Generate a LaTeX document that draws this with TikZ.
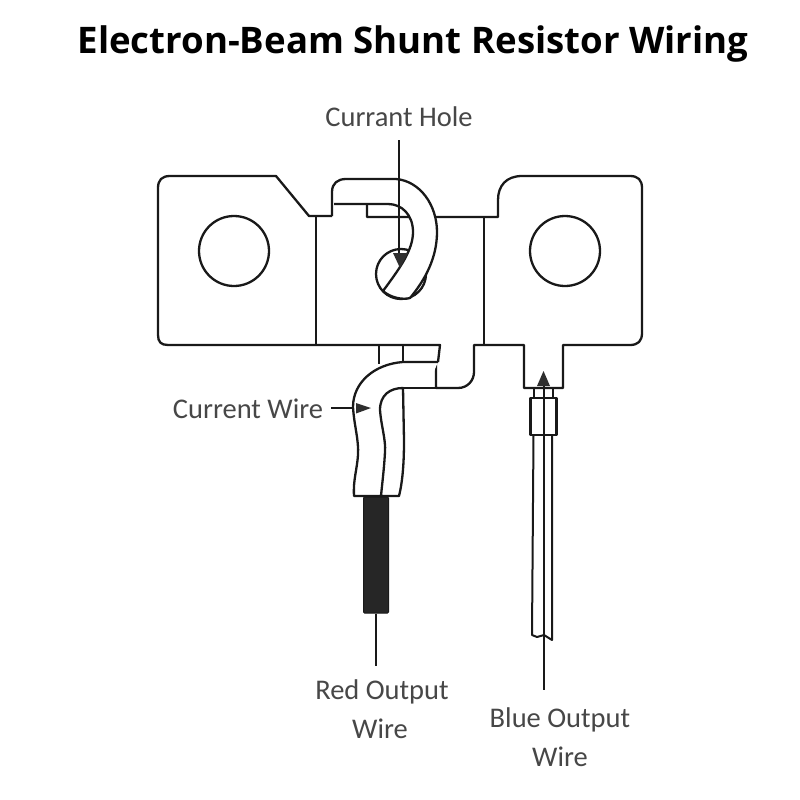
\documentclass[tikz,border=0pt]{standalone}
\usepackage{fontspec}
\setmainfont{Carlito}
\newfontfamily\titlefont{Open Sans}
\tikzset{
  part/.style={draw=black!90, line width=2.3pt, line join=round},
  leader/.style={draw=black!90, line width=1.3pt},
  tri/.style={fill=black!82, draw=none},
  lbl/.style={font=\fontsize{28.5}{30}\selectfont, text=black!72, inner sep=0pt},
}
\begin{document}
\begin{tikzpicture}[x=1pt,y=-1pt]
\useasboundingbox (0,0) rectangle (800,800);
\fill[white] (0,0) rectangle (800,800);
% title
\node[inner sep=0pt] (title) at (413,44) {\titlefont\bfseries\fontsize{36.6}{40}\selectfont Electron-Beam Shunt Resistor Wiring};
% body outline
\draw[part] (332,216) -- (309,216) -- (276,176) -- (170,176)
  .. controls (162,176) and (158,180) .. (158,188) -- (158,335)
  .. controls (158,342) and (161,345) .. (168,345) -- (440,345) -- (438,362);
\draw[part] (436,362) -- (436,388) -- (458,388)
  .. controls (468,388) and (474,380) .. (474,372) -- (474,345) -- (524,345)
  -- (524,388) -- (563,388) -- (563,345) -- (630,345)
  .. controls (638,345) and (642,341) .. (642,333) -- (642,188)
  .. controls (642,180) and (638,176) .. (630,176) -- (522,176)
  .. controls (506,176) and (498,186) .. (498,200) -- (498,217) -- (367,217) -- (367,204);
\draw[part] (316,216) -- (316,345);
\draw[part] (484,217) -- (484,345);
\draw[part] (379,345) -- (379,364);
\draw[part] (403,345) -- (403,362);
% mounting holes
\node[part, circle, minimum size=70pt, inner sep=0pt] (holeL) at (234,251) {};
\node[part, circle, minimum size=70pt, inner sep=0pt] (holeR) at (565,251) {};
\node[part, circle, minimum size=50pt, inner sep=0pt] (holeC) at (401,274) {};
% hook wire
\draw[part, fill=white] (332,216) -- (332,192)
  .. controls (332,183) and (338,179) .. (346,179) -- (396,179)
  .. controls (420,181) and (437,205) .. (437,232)
  .. controls (437,258) and (425,280) .. (410,298)
  .. controls (403,300) and (391,298) .. (383,291)
  .. controls (400,268) and (413,250) .. (413,232)
  .. controls (413,215) and (402,204) .. (388,204) -- (334,204);
% current wire
\draw[part, fill=white] (438,362) -- (403,362)
  .. controls (375,364) and (353,382) .. (353,407)
  .. controls (354,425) and (359,440) .. (358,455)
  .. controls (357,470) and (353,480) .. (354,496)
  -- (399,496)
  .. controls (403,480) and (404,460) .. (404,440) -- (403,388)
  .. controls (390,388) and (380,395) .. (380,410)
  .. controls (381,425) and (386,440) .. (385,452)
  .. controls (384,470) and (382,485) .. (381,496);
\draw[part] (403,388) -- (436,388);
% red output wire
\node[fill=black!85, draw=black!90, line width=1pt, minimum width=25pt, minimum height=116pt, inner sep=0pt, rounded corners=1pt] (redwire) at (376,555) {};
% blue output wire
\draw[part] (534,388) -- (534,398);
\draw[part] (553,388) -- (553,398);
\node[part, fill=white, minimum width=26pt, minimum height=37pt, inner sep=0pt] (ferrule) at (543.5,416.5) {};
\draw[part, line width=2pt] (533.5,435) -- (532,635) -- (537,637) -- (544,635) -- (552,640) -- (552,435);
% leaders, coordinates
\coordinate (holeTop) at (399,140);
\coordinate (holeTip) at (399,253);
\coordinate (wireTail) at (331,408);
\coordinate (wireTip) at (353,408);
\coordinate (redEnd) at (376,666);
\coordinate (blueTop) at (544,386);
\coordinate (blueEnd) at (544,690);
\draw[leader] (holeTop) -- (holeTip);
\fill[tri] (393,253) -- (408,253) -- (400,268) -- cycle;
\draw[leader] (wireTail) -- (wireTip);
\fill[tri] (356,403) -- (371,408) -- (356,413.5) -- cycle;
\draw[leader] (redwire.south) -- (redEnd);
\draw[leader] (blueTop) -- (blueEnd);
\fill[tri] (543.5,371) -- (550,386) -- (537,386) -- cycle;
% labels
\node[lbl] (lhole) at (399,117) {Currant Hole};
\node[lbl] (lwire) at (248,409) {Current Wire};
\node[lbl] (lred1) at (382,692) {Red Output};
\node[lbl] (lred2) at (380,729) {Wire};
\node[lbl] (lblue1) at (560,720) {Blue Output};
\node[lbl] (lblue2) at (560,757) {Wire};
\end{tikzpicture}
\end{document}
